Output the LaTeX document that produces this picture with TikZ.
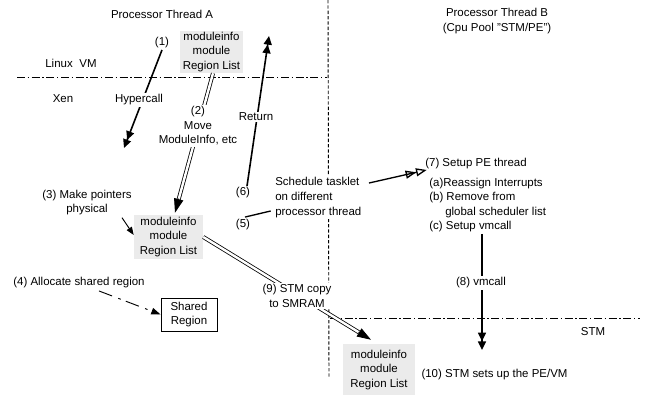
\documentclass[tikz,border=0pt]{standalone}
\usepackage{fontspec}
\setmainfont{Liberation Sans}
\usetikzlibrary{arrows.meta,calc}

\begin{document}
\begin{tikzpicture}[x=0.75pt,y=-0.75pt,
  font=\fontsize{8.6pt}{10.9pt}\selectfont,
  lbl/.style={inner sep=1pt, align=center},
  onl/.style={lbl, fill=white},
  gbox/.style={fill=black!8, inner sep=0pt, align=center},
  sepdash/.style={line width=0.7pt, dash pattern=on 2.5pt off 1.5pt},
  sepdashdot/.style={line width=0.7pt, dash pattern=on 6pt off 2pt on 1pt off 2pt},
  thickarr/.style={line width=1.2pt,
    -{Triangle[length=6.5pt,width=6pt] Triangle[length=6.5pt,width=6pt]}},
  openarr/.style={line width=1pt,
    -{Triangle[open,length=8pt,width=6pt] Triangle[open,length=8pt,width=6pt]}},
  smallarr/.style={line width=0.7pt, -{Triangle[length=6pt,width=4.5pt]}},
  dasharr/.style={line width=0.7pt, dash pattern=on 10.5pt off 5pt on 2pt off 4pt,
    -{Triangle[length=7pt,width=5pt]}},
  dbl/.style={line width=0.6pt, double=white, double distance=1.8pt, shorten >=8pt},
  dbltip/.style={line width=0.6pt, -{Triangle[length=10.5pt,width=7pt]}},
]
\useasboundingbox (0,0) rectangle (645,394);

% separators between the execution contexts
\draw[sepdash] (328,0) -- (329,378);
\draw[sepdashdot] (17,77) -- (327,77);
\draw[sepdashdot] (330,318) -- (640,318);

% headings and region names
\node[lbl] (thA) at (162,14) {Processor Thread A};
\node[lbl] (thB) at (497,21) {Processor Thread B\\(Cpu Pool "STM/PE")};
\node[lbl] (linux) at (71,63) {Linux\hspace{5pt}VM};
\node[lbl] (xen) at (63,99) {Xen};
\node[lbl] (stm) at (593,332) {STM};

% region lists and shared region
\node[gbox, minimum width=47.25pt, minimum height=31.5pt] (boxA) at (211.5,52)
  {moduleinfo\\module\\Region List};
\node[gbox, minimum width=51.75pt, minimum height=33pt] (boxB) at (168.5,237)
  {moduleinfo\\module\\Region List};
\node[gbox, minimum width=54pt, minimum height=39pt] (boxC) at (379,370)
  {moduleinfo\\module\\Region List};
\node[draw, line width=0.6pt, align=center, inner sep=0pt,
  minimum width=42pt, minimum height=24.75pt] (shared) at (189,314.5) {Shared\\Region};

% step labels
\node[lbl] (n1) at (162,43) {(1)};
\node[lbl] (n3) at (87,202.5) {(3) Make pointers\\physical};
\node[lbl] (n4) at (79,283) {(4) Allocate shared region};
\node[lbl] (n5) at (243,225) {(5)};
\node[lbl] (n6) at (243,193) {(6)};
\node[onl, align=left, anchor=west] (sched) at (273.7,197.5)
  {Schedule tasklet\\on different\\processor thread};
\node[lbl, anchor=west] (n7) at (423.7,164) {(7) Setup PE thread};
\node[lbl, align=left, anchor=west] (steps) at (427.7,205)
  {(a)Reassign Interrupts\\(b) Remove from\\\hspace{12pt}global scheduler list\\(c) Setup vmcall};
\node[lbl] (n10) at (494.5,375) {(10) STM sets up the PE/VM};

% free ends of the arrows
\coordinate (hyptip) at (124,148);
\coordinate (rettip) at (269,36);
\coordinate (vtip) at (482,350);

% (1) hypercall and (6) return
\draw[thickarr] (n1.south) -- (hyptip);
\draw[thickarr] ($(n6.north)+(4,0)$) -- (rettip);

% (2) move the region list into Xen
\coordinate (d2s) at ($(boxA.south)+(1.5,0)$);
\coordinate (d2e) at ($(boxB.north)+(6.5,-2)$);
\draw[dbl] (d2s) -- (d2e);
\draw[dbltip] ($(d2e)!11pt!(d2s)$) -- (d2e);

% (9) copy to SMRAM
\coordinate (d9s) at (boxB.east);
\coordinate (d9e) at ($(boxC.north)+(-8,-4)$);
\draw[dbl] (d9s) -- (d9e);
\draw[dbltip] ($(d9e)!11pt!(d9s)$) -- (d9e);

% (3), (4) and (5)
\draw[smallarr] ($(n3.south)+(35,1)$) -- ($(boxB.west)+(0,-2)$);
\draw[dasharr] ($(n4.south)+(20,1)$) -- (shared.west);
\draw[line width=1pt] ($(n5.north)+(2,-1)$) -- ($(sched.south west)+(-3,-8)$);

% (7) hand over to thread B, (8) vmcall
\draw[openarr] ($(sched.north east)+(6,7)$) -- ($(n7.south west)+(3,-1)$);
\draw[thickarr] (steps.south -| vtip) -- (vtip);

% labels sitting on the arrows
\node[onl] (hyp) at (139,100) {Hypercall};
\node[onl] (mv) at (198,126) {(2)\\Move\\ModuleInfo, etc};
\node[onl] (ret) at (256,117) {Return};
\node[onl] (n9) at (297,296) {(9) STM copy\\to SMRAM};
\node[onl] (n8) at (481,283) {(8) vmcall};
\end{tikzpicture}
\end{document}
